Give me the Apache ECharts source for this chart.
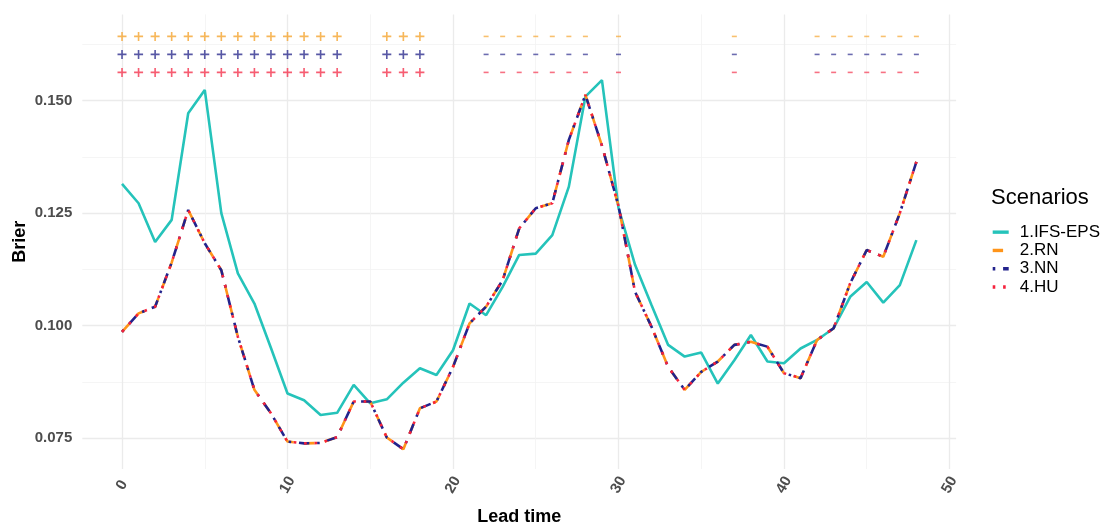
<!DOCTYPE html>
<html><head><meta charset="utf-8">
<script src="https://cdn.jsdelivr.net/npm/echarts@6/dist/echarts.min.js"></script>
<style>html,body{margin:0;padding:0;background:#fff}#c{width:1117px;height:532px}</style>
</head><body><div id="c"></div>
<script>
// ---- data ----
const leadTime = [0,1,2,3,4,5,6,7,8,9,10,11,12,13,14,15,16,17,18,19,20,21,22,23,24,25,26,27,28,29,30,31,32,33,34,35,36,37,38,39,40,41,42,43,44,45,46,47,48];
const ifsEps = [0.1315,0.1272,0.1186,0.1235,0.1472,0.1524,0.1250,0.1116,0.1049,0.0950,
                0.0849,0.0834,0.0801,0.0806,0.0868,0.0827,0.0836,0.0873,0.0905,0.0890,
                0.0945,0.1049,0.1023,0.1086,0.1157,0.1160,0.1201,0.1309,0.1509,0.1546,
                0.1262,0.1135,0.1045,0.0957,0.0931,0.0940,0.0871,0.0923,0.0979,0.0920,
                0.0916,0.0949,0.0968,0.0994,0.1064,0.1097,0.1051,0.1090,0.1190];
const rn = [0.0986,0.1027,0.1042,0.1140,0.1257,0.1183,0.1123,0.0975,0.0857,0.0805,
            0.0742,0.0738,0.0739,0.0752,0.0831,0.0831,0.0751,0.0725,0.0816,0.0831,
            0.0908,0.1005,0.1042,0.1101,0.1216,0.1261,0.1272,0.1413,0.1513,0.1400,
            0.1266,0.1075,0.0997,0.0908,0.0857,0.0897,0.0920,0.0957,0.0964,0.0953,
            0.0894,0.0883,0.0968,0.0994,0.1094,0.1168,0.1153,0.1250,0.1364];
const nn = [0.0986,0.1027,0.1042,0.1140,0.1257,0.1183,0.1123,0.0975,0.0857,0.0805,
            0.0742,0.0738,0.0739,0.0752,0.0831,0.0831,0.0751,0.0725,0.0816,0.0831,
            0.0908,0.1005,0.1042,0.1101,0.1216,0.1261,0.1272,0.1413,0.1513,0.1400,
            0.1266,0.1075,0.0997,0.0908,0.0857,0.0897,0.0920,0.0957,0.0964,0.0953,
            0.0894,0.0883,0.0968,0.0994,0.1094,0.1168,0.1153,0.1250,0.1364];
const hu = [0.0986,0.1027,0.1042,0.1140,0.1257,0.1183,0.1123,0.0975,0.0857,0.0805,
            0.0742,0.0738,0.0739,0.0752,0.0831,0.0831,0.0751,0.0725,0.0816,0.0831,
            0.0908,0.1005,0.1042,0.1101,0.1216,0.1261,0.1272,0.1413,0.1513,0.1400,
            0.1266,0.1075,0.0997,0.0908,0.0857,0.0897,0.0920,0.0957,0.0964,0.0953,
            0.0894,0.0883,0.0968,0.0994,0.1094,0.1168,0.1153,0.1250,0.1364];
// significance markers (lead times) and the level of each marker row (RN, NN, HU)
const plusLeads  = [0,1,2,3,4,5,6,7,8,9,10,11,12,13,16,17,18];
const minusLeads = [22,23,24,25,26,27,28,30,37,42,43,44,45,46,47,48];
const markerRows = [0.1643, 0.1603, 0.1563];
const seriesNames = ['1.IFS-EPS','2.RN','3.NN','4.HU'];
const xTicks = [0,10,20,30,40,50];
const xMinor = [5,15,25,35,45];
const yTicks = [0.075,0.100,0.125,0.150];
const yMinor = [0.0875,0.1125,0.1375,0.1625];

// ---- styling ----
const FONT = 'Liberation Sans, Arial, sans-serif';
const colors = ['#25C3BA','#FF9419','#23238C','#F5223C'];
const markColors = ['#F5A531','#2E2E8F','#F4344F'];
const lineTypes = ['solid',[10.4,10.4],[2.6,7.8,10.4,7.8],[2.6,7.8]];
const PLUS = 'path://M8.2,0H11.8V8.2H20V11.8H11.8V20H8.2V11.8H0V8.2H8.2Z';

const toPairs = arr => leadTime.map((t,i)=>[t, arr[i]]);
const lineSeries = [ifsEps, rn, nn, hu].map((arr,i)=>({
  name: seriesNames[i], type:'line', data: toPairs(arr), symbol:'none',
  xAxisIndex:0, yAxisIndex:0, z: 3+i,
  lineStyle:{ color: colors[i], width: 2.6, type: lineTypes[i], cap:'butt' },
  itemStyle:{ color: colors[i] }
}));
const markerSeries = [];
markerRows.forEach((lv,i)=>{
  markerSeries.push({ name:'plus'+i, type:'scatter', symbol: PLUS, symbolSize: 9,
    data: plusLeads.map(t=>[t, lv]), itemStyle:{ color: markColors[i] }, z: 10, silent:true });
  markerSeries.push({ name:'minus'+i, type:'scatter', symbol:'rect', symbolSize:[5,1.6],
    data: minusLeads.map(t=>[t, lv]), itemStyle:{ color: markColors[i], opacity:0.7 }, z: 10, silent:true });
});

const axisLabelStyle = { fontFamily: FONT, fontSize: 15, color:'#4D4D4D', fontWeight:'bold' };
const majorGrid = { show:true, lineStyle:{ color:'#EBEBEB', width:1.3 } };
const minorGrid = { show:true, lineStyle:{ color:'#F3F3F3', width:0.8 } };

const chart = echarts.init(document.getElementById('c'), null, {renderer:'canvas'});
chart.setOption({
  animation:false,
  backgroundColor:'#fff',
  title:{ text:'Scenarios', left: 991, top: 187, padding:0,
    textStyle:{ fontFamily: FONT, fontSize: 22, fontWeight:'normal', color:'#000' } },
  legend:{ data: seriesNames, orient:'vertical', left: 991, top: 223, padding:0,
    itemWidth:16, itemHeight:10, itemGap:0,
    itemStyle:{ opacity:0 },
    lineStyle:{ width:3.4 },
    textStyle:{ fontFamily: FONT, fontSize:17, color:'#000', lineHeight:18.3, padding:[0,0,0,6] } },
  grid:{ left:82.3, right:160.9, top:14.4, bottom:63, containLabel:false, outerBoundsMode:'none' },
  xAxis:[
    { type:'value', min:-2.4, max:50.4,
      name:'Lead time', nameLocation:'middle', nameGap:39,
      nameTextStyle:{ fontFamily: FONT, fontSize:18, fontWeight:'bold', color:'#000' },
      axisLine:{show:false}, axisTick:{show:false, customValues: xTicks},
      axisLabel:{ ...axisLabelStyle, customValues: xTicks, rotate:60, align:'center', verticalAlign:'middle', margin:16 },
      splitLine: majorGrid },
    { type:'value', min:-2.4, max:50.4, position:'bottom',
      axisLine:{show:false}, axisTick:{show:false, customValues: xMinor},
      axisLabel:{ show:false, customValues: xMinor }, splitLine: minorGrid }
  ],
  yAxis:[
    { type:'value', min:0.0681, max:0.1692,
      name:'Brier', nameLocation:'middle', nameGap:53, nameMoveOverlap:false,
      nameTextStyle:{ fontFamily: FONT, fontSize:18, fontWeight:'bold', color:'#000' },
      axisLine:{show:false}, axisTick:{show:false, customValues: yTicks},
      axisLabel:{ ...axisLabelStyle, customValues: yTicks, margin:10, formatter: v => v.toFixed(3) },
      splitLine: majorGrid },
    { type:'value', min:0.0681, max:0.1692, position:'left',
      axisLine:{show:false}, axisTick:{show:false, customValues: yMinor},
      axisLabel:{ show:false, customValues: yMinor }, splitLine: minorGrid }
  ],
  series: [...lineSeries, ...markerSeries]
});
</script>
</body></html>
